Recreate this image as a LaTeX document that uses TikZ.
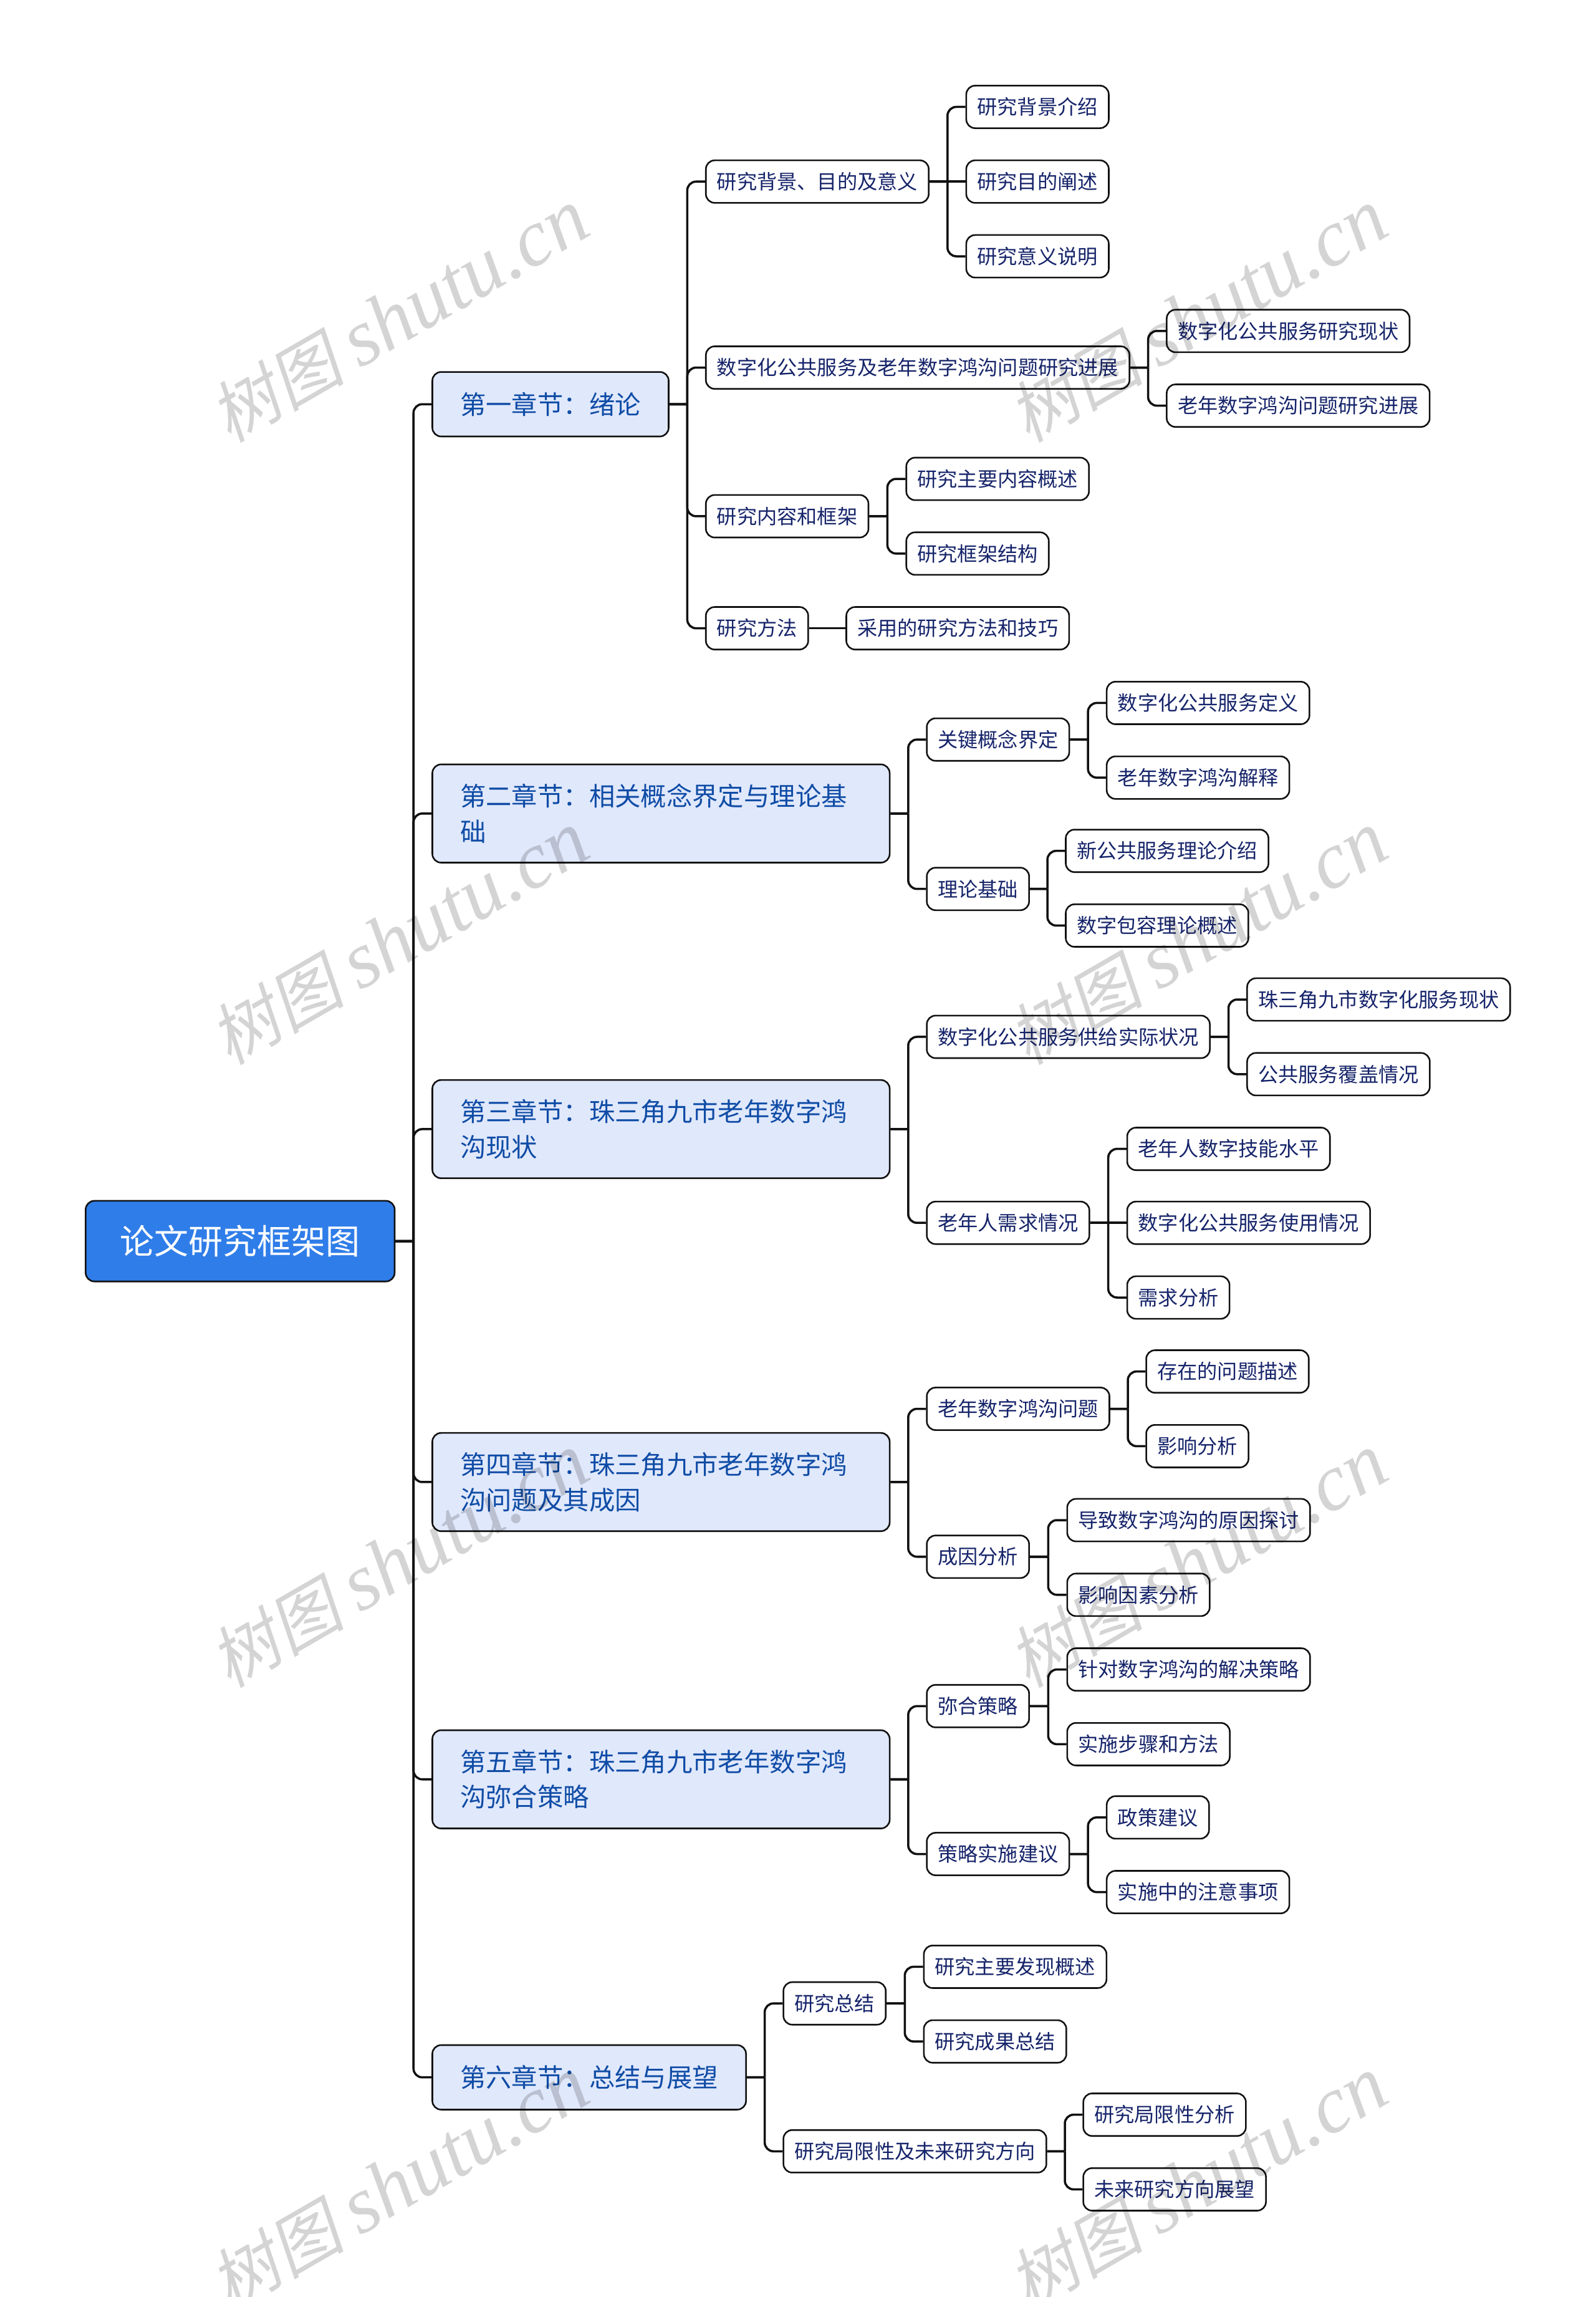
\documentclass[tikz,border=0pt]{standalone}
\usepackage{fontspec}
\setmainfont{Noto Sans CJK SC}
\newfontfamily\markcjk[FakeSlant=0.2]{Noto Sans CJK SC}
\newfontfamily\marklat{Liberation Serif}[ItalicFont={Liberation Serif Italic}]
\usetikzlibrary{calc}
\definecolor{rootfill}{HTML}{2F7DE9}
\definecolor{chapfill}{HTML}{E0E8FB}
\definecolor{chapink}{HTML}{0F4CA6}
\definecolor{leafink}{HTML}{16246A}
\definecolor{wire}{HTML}{111111}
\tikzset{
  box/.style={draw=wire,line width=1.1pt,rounded corners=6pt,anchor=west,inner ysep=0pt},
  rootbox/.style={box,fill=rootfill,text=white,font=\fontsize{23.4}{28}\selectfont,inner xsep=23.5pt,minimum height=55pt},
  chapbox/.style={box,fill=chapfill,text=chapink,font=\fontsize{17.6}{24}\selectfont,inner xsep=19pt,minimum height=44pt},
  chapwide/.style={chapbox,align=left,text width=274pt,minimum height=67pt},
  leafbox/.style={box,fill=white,text=leafink,font=\fontsize{13.7}{16}\selectfont,inner xsep=7.5pt,minimum height=29pt},
  elbow/.style={draw=wire,line width=1.5pt,rounded corners=6pt,
    to path={let \p1=(\tikztostart.east),\p2=(\tikztotarget.west) in
      (\p1) -- ({(\x1+\x2)/2},\y1) ({(\x1+\x2)/2},\y1) -- ({(\x1+\x2)/2},\y2) -- (\p2)}},
  straight/.style={draw=wire,line width=1.5pt,
    to path={(\tikztostart.east) -- (\tikztotarget.west)}},
  stamp/.style={text=black,opacity=0.17,rotate=30,inner sep=0pt}
}
\begin{document}
\begin{tikzpicture}[x=0.998pt,y=-0.999pt]
  \useasboundingbox[fill=white] (0,0) rectangle (1091,1568.5);
  \node[rootbox] (N) at (58,847.5) {论文研究框架图};
  \node[chapbox] (C-1) at (295,276) {第一章节^^^^ff1a绪论};
  \node[chapbox] (C-6) at (295,1418.5) {第六章节^^^^ff1a总结与展望};
  \foreach \name/\ypos/\txt in {2/555.5/{第二章节^^^^ff1a相关概念界定与理论基\\础},
      3/771/{第三章节^^^^ff1a珠三角九市老年数字鸿\\沟现状},
      4/1012/{第四章节^^^^ff1a珠三角九市老年数字鸿\\沟问题及其成因},
      5/1215/{第五章节^^^^ff1a珠三角九市老年数字鸿\\沟弥合策略}}{%
    \node[chapwide] (C-\name) at (295,\ypos) {\txt};
  }
  % second and third level
  \foreach \name/\xpos/\ypos/\txt in {
      a/482/124/研究背景、目的及意义, a1/660/73/研究背景介绍, a2/660/124/研究目的阐述, a3/660/175/研究意义说明,
      b/482/251/数字化公共服务及老年数字鸿沟问题研究进展, b1/797/226/数字化公共服务研究现状, b2/797/277/老年数字鸿沟问题研究进展,
      c/482/352.5/研究内容和框架, c1/619/327/研究主要内容概述, c2/619/378/研究框架结构,
      d/482/429/研究方法, d1/578/429/采用的研究方法和技巧,
      e/633/505/关键概念界定, e1/756/480/数字化公共服务定义, e2/756/531/老年数字鸿沟解释,
      f/633/607/理论基础, f1/728/581/新公共服务理论介绍, f2/728/632/数字包容理论概述,
      g/633/708/数字化公共服务供给实际状况, g1/852/682.5/珠三角九市数字化服务现状, g2/852/733.5/公共服务覆盖情况,
      h/633/835/老年人需求情况, h1/770/784.5/老年人数字技能水平, h2/770/835/数字化公共服务使用情况, h3/770/886/需求分析,
      i/633/962/老年数字鸿沟问题, i1/783/936.5/存在的问题描述, i2/783/987.5/影响分析,
      j/633/1063/成因分析, j1/729/1038/导致数字鸿沟的原因探讨, j2/729/1089/影响因素分析,
      k/633/1165/弥合策略, k1/729/1140/针对数字鸿沟的解决策略, k2/729/1191/实施步骤和方法,
      l/633/1266/策略实施建议, l1/756/1241/政策建议, l2/756/1292/实施中的注意事项,
      m/535/1368/研究总结, m1/631/1343/研究主要发现概述, m2/631/1394/研究成果总结,
      n/535/1469/研究局限性及未来研究方向, n1/740/1444/研究局限性分析, n2/740/1495/未来研究方向展望}{%
    \node[leafbox] (S-\name) at (\xpos,\ypos) {\txt};
  }
  \foreach \i in {1,...,6}{%
    \path (N) edge[elbow] (C-\i);
  }
  \foreach \up/\down in {C-1/a,C-1/b,C-1/c,C-1/d,C-2/e,C-2/f,C-3/g,C-3/h,C-4/i,C-4/j,C-5/k,C-5/l,C-6/m,C-6/n,
      S-a/a1,S-a/a3,S-b/b1,S-b/b2,S-c/c1,S-c/c2,S-e/e1,S-e/e2,S-f/f1,S-f/f2,
      S-g/g1,S-g/g2,S-h/h1,S-h/h3,S-i/i1,S-i/i2,S-j/j1,S-j/j2,S-k/k1,S-k/k2,S-l/l1,S-l/l2,
      S-m/m1,S-m/m2,S-n/n1,S-n/n2}{%
    \path (\up) edge[elbow] (S-\down);
  }
  \foreach \up/\down in {S-a/a2,S-d/d1,S-h/h2}{%
    \path (\up) edge[straight] (S-\down);
  }
  % watermark
  \foreach \xpos in {273,819}{%
    \foreach \ypos in {216,641,1066,1491}{%
      \node[stamp] (W-\xpos-\ypos) at (\xpos,\ypos) {\fontsize{46}{50}\selectfont\markcjk 树图 \fontsize{55}{50}\selectfont\marklat\itshape shutu.cn};
    }
  }
\end{tikzpicture}
\end{document}
